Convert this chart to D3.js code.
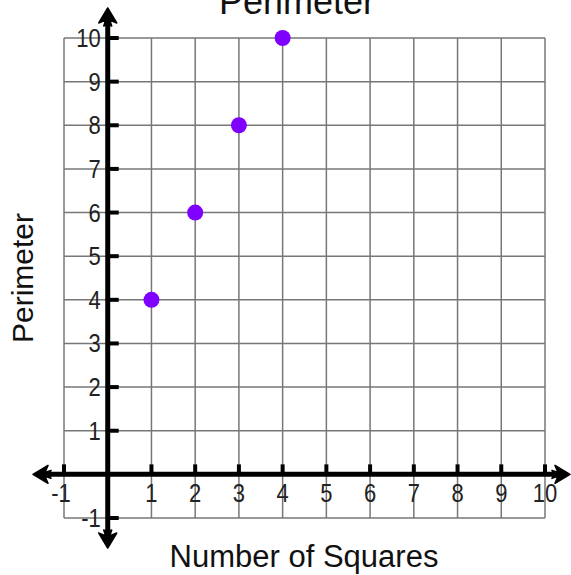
<!DOCTYPE html>
<html>
<head>
<meta charset="utf-8">
<script src="https://cdn.jsdelivr.net/npm/d3@7"></script>
<style>
  body { margin: 0; background: #fff; }
  svg { display: block; font-family: 'Liberation Sans', Arial, sans-serif; }
</style>
</head>
<body>
<svg id="chart" width="571" height="575"></svg>
<script>
const squares = [1, 2, 3, 4]
const perimeter = [4, 6, 8, 10]
const xTicks = [-1, 1, 2, 3, 4, 5, 6, 7, 8, 9, 10]
const yTicks = [-1, 1, 2, 3, 4, 5, 6, 7, 8, 9, 10]
const gridValues = d3.range(-1, 11)

function drawChart() {
  const svg = d3.select('#chart')
  svg.selectAll('*').remove()

  const x = d3.scaleLinear().domain([-1, 10]).range([64, 545])
  const y = d3.scaleLinear().domain([-1, 10]).range([518, 38])

  // grid
  const grid = svg.append('g')
    .attr('stroke', '#777')
    .attr('stroke-width', 1.5)
  grid.selectAll('.gx')
    .data(gridValues)
    .join('line')
    .attr('x1', d => x(d)).attr('x2', d => x(d))
    .attr('y1', y(10)).attr('y2', y(-1))
  grid.selectAll('.gy')
    .data(gridValues)
    .join('line')
    .attr('class', 'gy')
    .attr('y1', d => y(d)).attr('y2', d => y(d))
    .attr('x1', x(-1)).attr('x2', x(10))

  const fmt = d => d < 0 ? '-' + Math.abs(d) : d

  // tick labels, squeezed a bit like the original
  svg.append('g')
    .selectAll('text')
    .data(yTicks)
    .join('text')
    .attr('transform', d => `translate(${x(0) - 7},${y(d)}) scale(0.88,1)`)
    .attr('dy', '0.36em')
    .attr('text-anchor', 'end')
    .attr('fill', '#222')
    .style('font-size', '25px')
    .text(fmt)

  svg.append('g')
    .selectAll('text')
    .data(xTicks)
    .join('text')
    .attr('transform', d => `translate(${d < 0 ? x(d) - 3 : x(d)},${y(0) + 28}) scale(0.88,1)`)
    .attr('text-anchor', 'middle')
    .attr('fill', '#222')
    .style('font-size', '25px')
    .text(fmt)

  // axes
  const axes = svg.append('g').attr('fill', '#000').attr('stroke', '#000')
  axes.append('line')
    .attr('x1', 40).attr('x2', 562)
    .attr('y1', y(0)).attr('y2', y(0))
    .attr('stroke-width', 5)
  axes.append('line')
    .attr('x1', x(0)).attr('x2', x(0))
    .attr('y1', 16).attr('y2', 540)
    .attr('stroke-width', 5)

  // ticks
  axes.selectAll('.tx')
    .data(xTicks)
    .join('line')
    .attr('class', 'tx')
    .attr('x1', d => x(d)).attr('x2', d => x(d))
    .attr('y1', y(0) - 10).attr('y2', y(0))
    .attr('stroke-width', 4)
  axes.selectAll('.ty')
    .data(yTicks)
    .join('line')
    .attr('class', 'ty')
    .attr('x1', x(0)).attr('x2', x(0) + 11)
    .attr('y1', d => y(d)).attr('y2', d => y(d))
    .attr('stroke-width', 4)

  // arrowheads: notched triangles, tip at origin pointing up
  const arrow = 'M0,0 L9,15 L2,12 L4,18 L0,16 L-4,18 L-2,12 L-9,15 Z'
  const heads = [
    { tx: x(0), ty: 8, rot: 0 },
    { tx: x(0), ty: 548, rot: 180 },
    { tx: 33, ty: y(0), rot: -90 },
    { tx: 570, ty: y(0), rot: 90 }
  ]
  axes.selectAll('.head')
    .data(heads)
    .join('path')
    .attr('class', 'head')
    .attr('d', arrow)
    .attr('stroke-width', 1.5)
    .attr('stroke-linejoin', 'round')
    .attr('transform', d => `translate(${d.tx},${d.ty}) rotate(${d.rot})`)

  // points
  svg.append('g')
    .selectAll('circle')
    .data(squares.map((s, i) => [s, perimeter[i]]))
    .join('circle')
    .attr('cx', d => x(d[0]))
    .attr('cy', d => y(d[1]))
    .attr('r', 8)
    .attr('fill', '#7f00ff')

  // titles
  svg.append('text')
    .attr('x', 297).attr('y', 14)
    .attr('text-anchor', 'middle')
    .attr('fill', '#111')
    .style('font-size', '36px')
    .text('Perimeter')

  svg.append('text')
    .attr('x', 304).attr('y', 567)
    .attr('text-anchor', 'middle')
    .attr('fill', '#111')
    .style('font-size', '31px')
    .text('Number of Squares')

  svg.append('text')
    .attr('transform', 'translate(33,278) rotate(-90)')
    .attr('text-anchor', 'middle')
    .attr('fill', '#111')
    .style('font-size', '30px')
    .text('Perimeter')
}

document.addEventListener('DOMContentLoaded', drawChart, false)
</script>
</body>
</html>
